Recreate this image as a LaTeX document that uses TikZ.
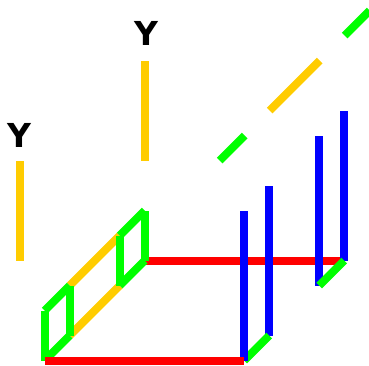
\documentclass[tikz,border=0pt]{standalone}
\usepackage{fontspec}
\setmainfont{DejaVu Sans}
\definecolor{rd}{RGB}{255,0,0}
\definecolor{gn}{RGB}{0,255,0}
\definecolor{bl}{RGB}{0,0,255}
\definecolor{og}{RGB}{255,204,0}
\tikzset{
  bar/.style={line width=8pt,line cap=butt},
  redbar/.style={bar,draw=rd},
  greenbar/.style={bar,draw=gn},
  bluebar/.style={bar,draw=bl},
  orangebar/.style={bar,draw=og},
  axislabel/.style={font=\bfseries\fontsize{33}{33}\selectfont,text=black,inner sep=0pt}
}
\begin{document}
\begin{tikzpicture}[x=1pt,y=-1pt]
\clip (0,0) rectangle (369,365);
\useasboundingbox (0,0) rectangle (369,365);
% corners of the frame
\coordinate (a1) at (44.7,360.5);
\coordinate (a2) at (44.7,310.5);
\coordinate (b1) at (69.7,335.5);
\coordinate (b2) at (69.7,285.5);
\coordinate (c1) at (119.7,285.5);
\coordinate (c2) at (119.7,235.5);
\coordinate (d1) at (144.7,260.5);
\coordinate (d2) at (144.7,210.5);
\coordinate (e1) at (244.2,360.5);
\coordinate (e2) at (244.2,210.5);
\coordinate (f1) at (269.2,335.5);
\coordinate (f2) at (269.2,185.5);
\coordinate (g1) at (319.2,285.5);
\coordinate (g2) at (319.2,135.5);
\coordinate (h1) at (344.2,260.5);
\coordinate (h2) at (344.2,110.5);
\coordinate (p1) at (19.7,260.5);
\coordinate (p2) at (19.7,160.5);
\coordinate (q1) at (144.7,160.5);
\coordinate (q2) at (144.7,60.5);
\coordinate (r1) at (219.7,160.5);
\coordinate (r2) at (244.7,135.5);
\coordinate (s1) at (269.7,110.5);
\coordinate (s2) at (319.7,60.5);
\coordinate (t1) at (344.7,35.5);
\coordinate (t2) at (369.7,10.5);
% labels
\node[axislabel] (ya) at (19,135.5) {Y};
\node[axislabel] (yb) at (146,33.5) {Y};
% orange
\draw[orangebar] (p1) -- (p2);
\draw[orangebar] (q1) -- (q2);
\draw[orangebar] (b1) -- (c1);
\draw[orangebar] (b2) -- (c2);
\draw[orangebar] (s1) -- (s2);
% upper red
\draw[redbar] (d1) -- (h1);
% blue, far
\draw[bluebar] (f1) -- (f2);
\draw[bluebar] (g1) -- (g2);
\draw[bluebar] (h1) -- (h2);
% green
\draw[greenbar] (a1) -- (a2);
\draw[greenbar] (b1) -- (b2);
\draw[greenbar] (c1) -- (c2);
\draw[greenbar] (d1) -- (d2);
\draw[greenbar] (a1) -- (b1);
\draw[greenbar] (a2) -- (b2);
\draw[greenbar] (c1) -- (d1);
\draw[greenbar] (c2) -- (d2);
\draw[greenbar] (e1) -- (f1);
\draw[greenbar] (g1) -- (h1);
\draw[greenbar] (r1) -- (r2);
\draw[greenbar] (t1) -- (t2);
% blue, near
\draw[bluebar] (e1) -- (e2);
% lower red
\draw[redbar] (a1) -- (e1);
\end{tikzpicture}
\end{document}
